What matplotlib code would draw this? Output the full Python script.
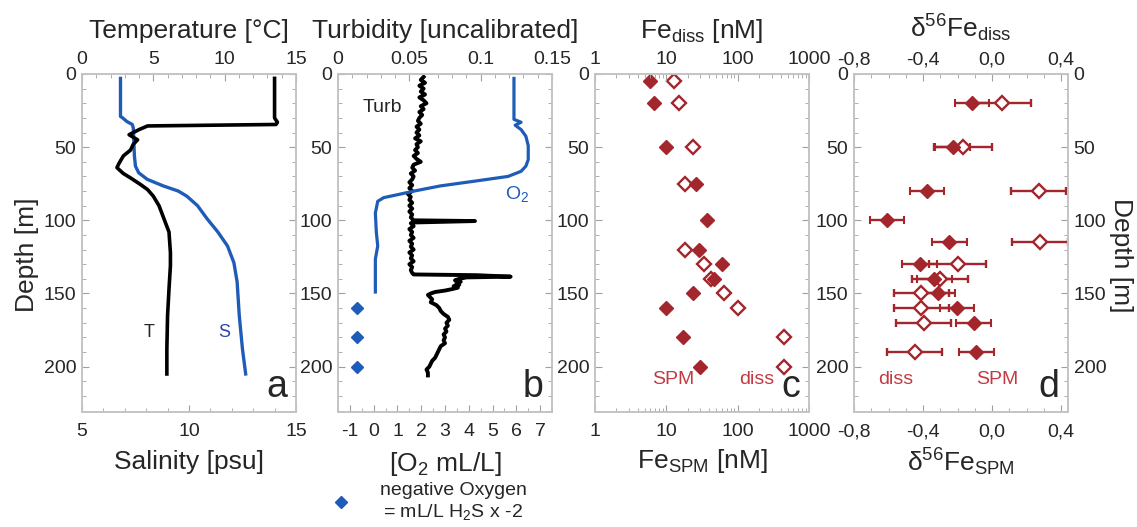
import matplotlib
matplotlib.use("Agg")
import matplotlib.pyplot as plt
from matplotlib.ticker import MultipleLocator, FixedLocator
from matplotlib.lines import Line2D

plt.rcParams['font.family'] = ['Liberation Sans', 'DejaVu Sans']
plt.rcParams['mathtext.fontset'] = 'custom'
plt.rcParams['mathtext.rm'] = 'Liberation Sans'
plt.rcParams['mathtext.it'] = 'Liberation Sans:italic'
plt.rcParams['axes.unicode_minus'] = False

# panel a: temperature and salinity profiles
t_depth = [3, 15, 30, 33, 34.5, 35.5, 38, 41.5, 45, 48,
           52, 56, 61, 64, 68, 71, 75.5, 79, 83.5, 90,
           99, 108, 122, 131, 147, 165, 188, 205]
temp = [13.5, 13.5, 13.5, 13.7, 13.6, 4.6, 4.0, 3.3, 3.9, 3.6,
        3.4, 2.9, 2.6, 2.45, 2.9, 3.4, 4.1, 4.6, 5.0, 5.4,
        5.75, 6.1, 6.2, 6.2, 6.1, 6.0, 5.95, 5.95]
s_depth = [3, 29, 30, 32.5, 34.5, 37, 45, 56, 63, 67.5,
           72, 76.5, 80, 83.5, 90, 99, 108, 117.5, 129, 142,
           165, 188, 205]
sal = [6.8, 6.8, 6.9, 7.1, 7.35, 7.4, 7.42, 7.45, 7.5, 7.65,
       8.05, 8.8, 9.5, 9.9, 10.4, 10.85, 11.35, 11.8, 12.1, 12.25,
       12.35, 12.5, 12.65]

# panel b: turbidity and oxygen
turb_depth = [2, 4, 6, 8, 10, 12, 14, 16, 18, 20,
              22, 24, 26, 28, 30, 32, 34, 36, 38, 40,
              42, 44, 46, 48, 50, 52, 54, 56, 58, 60,
              62, 64, 66, 68, 70, 72, 74, 76, 78, 80,
              82, 84, 86, 88, 90, 92, 94, 96, 98, 100,
              100.5, 101.5, 102, 104, 106, 108, 110, 112, 114, 116,
              118, 120, 122, 124, 126, 128, 130, 132, 134, 136,
              137, 137.5, 138.5, 139, 140, 141, 142, 143, 144, 145,
              146, 147, 148, 149, 150, 151, 152, 154, 156, 158,
              160, 162, 164, 166, 168, 170, 172, 174, 176, 178,
              180, 182, 184, 186, 188, 190, 192, 194, 196, 198,
              200, 202, 204, 206]
turb = [.060, .058, .061, .057, .060, .058, .061, .057, .060, .062,
        .058, .060, .057, .059, .057, .056, .058, .055, .057, .055,
        .057, .054, .058, .055, .056, .054, .056, .053, .055, .058,
        .053, .052, .054, .051, .053, .052, .050, .052, .050, .052,
        .049, .051, .050, .052, .050, .052, .050, .052, .051, .053,
        .096, .052, .051, .053, .050, .052, .051, .053, .050, .052,
        .051, .053, .050, .052, .051, .053, .050, .052, .051, .052,
        .053, .097, .121, .090, .085, .082, .086, .083, .085, .081,
        .084, .080, .075, .068, .065, .063, .064, .066, .065, .069,
        .071, .072, .074, .077, .078, .076, .077, .075, .076, .074,
        .075, .074, .075, .072, .071, .070, .069, .068, .066, .065,
        .064, .062, .063, .063]
o2_depth = [3, 31, 33, 35, 38, 42.5, 49, 58.5, 63, 66.5,
            70, 73, 76.5, 80, 82.5, 84.5, 87, 95, 108, 117.5,
            126.5, 149]
o2 = [5.9, 5.9, 6.2, 5.95, 6.2, 6.4, 6.5, 6.5, 6.4, 6.2,
      5.65, 4.35, 2.8, 1.7, 1.0, 0.42, 0.17, 0.07, 0.11, 0.17,
      0.07, 0.07]
h2s_depth = [160, 180, 200]
h2s_o2 = [-0.7, -0.7, -0.7]

# panel c: Fe concentrations
spm_depth = [5, 20, 50, 75, 100, 120, 130, 140, 150, 160, 180, 200]
fe_spm = [6.0, 6.7, 9.8, 26, 37, 29, 60, 47, 24, 9.9, 17, 30]
diss_depth = [5, 20, 50, 75, 120, 130, 140, 150, 160, 180, 200]
fe_diss = [13, 15, 24, 18, 18, 34, 42, 65, 100, 450, 450]

# panel d: iron isotopes
iso_spm_depth = [20, 50, 80, 100, 115, 130, 140, 150, 160, 170, 190]
d56_spm = [-0.117, -0.228, -0.377, -0.609, -0.247, -0.419, -0.335, -0.312, -0.204, -0.107, -0.091]
d56_spm_err = [0.1, 0.1, 0.1, 0.1, 0.1, 0.1, 0.1, 0.1, 0.1, 0.1, 0.1]
iso_diss_depth = [20, 50, 80, 115, 130, 140, 150, 160, 170, 190]
d56_diss = [0.06, -0.169, 0.27, 0.278, -0.2, -0.302, -0.41, -0.41, -0.396, -0.449]
d56_diss_err = [0.165, 0.17, 0.16, 0.16, 0.166, 0.163, 0.16, 0.16, 0.16, 0.16]

BLUE = '#1f5cb8'
RED = '#a3262c'
RED_TXT = '#c23a42'
TICK_C = '#a0a0a0'
SPINE_C = '#c4c4c4'
TXT_C = '#262626'
LBL = 19
TCK = 14

fig = plt.figure(figsize=(11.37, 5.27), dpi=100)
lefts = [0.0721, 0.2973, 0.5233, 0.7511]
bottom, width, height = 0.2182, 0.1882, 0.6414


def style(ax, twin):
    for sp in ax.spines.values():
        sp.set_color(SPINE_C)
        sp.set_linewidth(1.2)
    for sp in twin.spines.values():
        sp.set_color(SPINE_C)
        sp.set_linewidth(1.2)
    ax.set_ylim(231, 0)
    ax.yaxis.set_major_locator(MultipleLocator(50))
    ax.yaxis.set_minor_locator(MultipleLocator(10))
    ax.tick_params(which='both', direction='in', right=True, top=False,
                   color=TICK_C, labelsize=TCK, labelcolor=TXT_C, pad=4)
    ax.tick_params(axis='x', which='both', pad=8)
    ax.tick_params(which='major', length=5)
    ax.tick_params(which='minor', length=3)
    twin.tick_params(which='both', direction='in', color=TICK_C,
                     labelsize=TCK, labelcolor=TXT_C, pad=4)
    twin.tick_params(which='major', length=5)
    twin.tick_params(which='minor', length=3)


axes = []
for left in lefts:
    ax = fig.add_axes([left, bottom, width, height])
    tw = ax.twiny()
    style(ax, tw)
    axes.append((ax, tw))

# ---- panel a
ax, tw = axes[0]
ax.set_xlim(5, 15)
tw.set_xlim(0, 15)
ax.plot(sal, s_depth, color=BLUE, lw=2.4)
tw.plot(temp, t_depth, color='black', lw=2.6)
ax.xaxis.set_major_locator(MultipleLocator(5))
ax.xaxis.set_minor_locator(MultipleLocator(1))
tw.xaxis.set_major_locator(MultipleLocator(5))
tw.xaxis.set_minor_locator(MultipleLocator(1))
ax.set_xlabel('Salinity [psu]', fontsize=LBL, color=TXT_C, labelpad=7)
tw.set_xlabel('Temperature [°C]', fontsize=LBL, color=TXT_C, labelpad=10)
ax.set_ylabel('Depth [m]', fontsize=LBL, color=TXT_C)
ax.yaxis.set_label_coords(-0.2, 0.464)
tw.text(4.7, 177, 'T', fontsize=13, color=TXT_C, ha='center', va='center')
ax.text(11.64, 177, 'S', fontsize=13, color='#2b45a8', ha='center', va='center')
ax.text(0.96, 0.02, 'a', transform=ax.transAxes, fontsize=27, color=TXT_C,
        ha='right', va='bottom')

# ---- panel b
ax, tw = axes[1]
ax.set_xlim(-1.5, 7.5)
tw.set_xlim(0, 0.15)
tw.plot(turb, turb_depth, color='black', lw=2.8)
ax.plot(o2, o2_depth, color=BLUE, lw=2.3, zorder=5)
ax.plot(h2s_o2, h2s_depth, 'D', color=BLUE, ms=6.5, ls='none')
ax.set_zorder(tw.get_zorder() + 1)
ax.patch.set_visible(False)
ax.xaxis.set_major_locator(MultipleLocator(1))
ax.xaxis.set_minor_locator(MultipleLocator(0.5))
tw.xaxis.set_major_locator(FixedLocator([0, 0.05, 0.1, 0.15]))
tw.set_xticklabels(['0', '0.05', '0.1', '0.15'])
tw.xaxis.set_minor_locator(MultipleLocator(0.01))
ax.set_xlabel('[O$_2$ mL/L]', fontsize=LBL, color=TXT_C, labelpad=7)
tw.set_xlabel('Turbidity [uncalibrated]', fontsize=LBL, color=TXT_C, labelpad=10)
ax.text(0.35, 23, 'Turb', fontsize=14, color=TXT_C, ha='center', va='center')
ax.text(6.05, 82, 'O$_2$', fontsize=14, color=BLUE, ha='center', va='center')
ax.text(0.96, 0.02, 'b', transform=ax.transAxes, fontsize=27, color=TXT_C,
        ha='right', va='bottom')

# ---- panel c
ax, tw = axes[2]
ax.set_xscale('log')
tw.set_xscale('log')
ax.set_xlim(1, 1000)
tw.set_xlim(1, 1000)
ax.plot(fe_diss, diss_depth, 'D', ms=7, mfc='white', mec=RED, mew=1.7, ls='none')
ax.plot(fe_spm, spm_depth, 'D', ms=7, color=RED, ls='none')
for a in (ax, tw):
    a.xaxis.set_major_locator(FixedLocator([1, 10, 100, 1000]))
    a.set_xticklabels(['1', '10', '100', '1000'])
ax.set_xlabel('Fe$_{\\mathrm{SPM}}$ [nM]', fontsize=LBL, color=TXT_C, labelpad=5)
tw.set_xlabel('Fe$_{\\mathrm{diss}}$ [nM]', fontsize=LBL, color=TXT_C, labelpad=10)
ax.text(12.5, 209, 'SPM', fontsize=14, color=RED_TXT, ha='center', va='center')
ax.text(185, 209, 'diss', fontsize=14, color=RED_TXT, ha='center', va='center')
ax.text(0.96, 0.02, 'c', transform=ax.transAxes, fontsize=27, color=TXT_C,
        ha='right', va='bottom')

# ---- panel d
ax, tw = axes[3]
ax.set_xlim(-0.8, 0.44)
tw.set_xlim(-0.8, 0.44)
ax.errorbar(d56_diss, iso_diss_depth, xerr=d56_diss_err, fmt='D', ms=7,
            mfc='white', mec=RED, mew=1.7, ecolor=RED, elinewidth=1.7,
            capsize=3, capthick=1.5)
ax.errorbar(d56_spm, iso_spm_depth, xerr=d56_spm_err, fmt='D', ms=7,
            color=RED, ecolor=RED, elinewidth=1.7, capsize=3, capthick=1.5)
iso_ticks = [-0.8, -0.4, 0.0, 0.4]
iso_labels = ['-0,8', '-0,4', '0,0', '0,4']
for a in (ax, tw):
    a.xaxis.set_major_locator(FixedLocator(iso_ticks))
    a.set_xticklabels(iso_labels)
    a.xaxis.set_minor_locator(MultipleLocator(0.1))
ax.tick_params(labelright=True)
ax.yaxis.set_label_position('right')
ax.set_ylabel('Depth [m]', fontsize=LBL, color=TXT_C, rotation=270)
ax.yaxis.set_label_coords(1.305, 0.464)
ax.set_xlabel('δ$^{56}$Fe$_{\\mathrm{SPM}}$', fontsize=LBL, color=TXT_C, labelpad=5)
tw.set_xlabel('δ$^{56}$Fe$_{\\mathrm{diss}}$', fontsize=LBL, color=TXT_C, labelpad=10)
ax.text(-0.556, 209, 'diss', fontsize=14, color=RED_TXT, ha='center', va='center')
ax.text(0.03, 209, 'SPM', fontsize=14, color=RED_TXT, ha='center', va='center')
ax.text(0.96, 0.02, 'd', transform=ax.transAxes, fontsize=27, color=TXT_C,
        ha='right', va='bottom')

# legend for the H2S points
key = Line2D([], [], marker='D', color=BLUE, ls='none', ms=6.5)
leg = fig.legend([key], ['negative Oxygen\n= mL/L H$_2$S x -2'], loc='center',
                 bbox_to_anchor=(0.373, 0.047), frameon=False, fontsize=14,
                 handletextpad=1.0, labelcolor=TXT_C, labelspacing=0.2)
leg.get_texts()[0].set_multialignment('center')

fig.savefig('out.png', dpi=100)
